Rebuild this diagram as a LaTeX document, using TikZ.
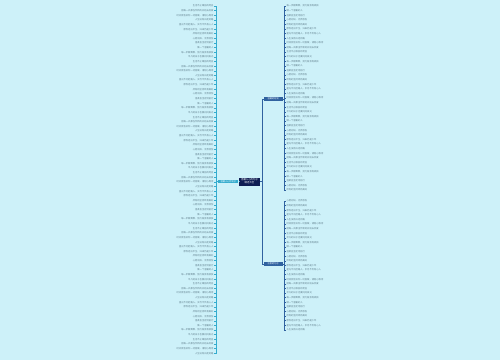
\documentclass[tikz,border=0pt]{standalone}
\usepackage{fontspec}
\newfontfamily\cjk{Noto Sans CJK SC}
\definecolor{bgc}{RGB}{205,241,249}
\definecolor{navy}{RGB}{14,30,84}
\definecolor{tealc}{RGB}{52,172,206}
\definecolor{bluec}{RGB}{48,98,160}
\definecolor{leafc}{RGB}{96,126,140}
\newcommand\myphrase[1]{\ifcase#1 人生没有白走的路\or 每一步都算数，努力就会有收获\or 愿你走出半生，归来仍是少年\or 生活不止眼前的苟且\or 心若向阳，无畏悲伤\or 时间会告诉你一切答案，请耐心等待\or 做一个温暖的人\or 星光不问赶路人，岁月不负有心人\or 平凡的日子也要闪闪发光\or 所有的坚持终将美好\or 把每一天都当作新的开始去热爱\or 温柔且坚定地前行\fi}
\begin{document}
\begin{tikzpicture}[x=1pt,y=-1pt,
  leaf/.style={font=\cjk\fontsize{2.3}{2.8}\selectfont, text=leafc, inner sep=0.3pt},
  centre/.style={fill=navy, text=white, font=\cjk\fontsize{2.4}{2.9}\selectfont, align=center, inner sep=1pt, minimum width=21pt, minimum height=8pt},
  lbranch/.style={fill=tealc, text=white, font=\cjk\fontsize{2.2}{2.6}\selectfont, inner sep=0.5pt, minimum width=20pt, minimum height=3pt},
  rbranch/.style={fill=bluec, text=white, font=\cjk\fontsize{2.2}{2.6}\selectfont, inner sep=0.5pt, minimum width=19pt, minimum height=3pt},
  lline/.style={draw=tealc, line width=0.8pt},
  rline/.style={draw=bluec, line width=0.8pt}]
\fill[bgc] (0,0) rectangle (500,360);
\useasboundingbox (0,0) rectangle (500,360);
\node[centre] (C) at (249.5,181.5) {温暖人心的句子\\精选大全};
\node[lbranch, anchor=east] (LB) at (238.5,181.5) {温暖人心的句子};
\node[rbranch, anchor=west] (RU) at (263.5,99) {温暖的短句};
\node[rbranch, anchor=west] (RD) at (263.5,264) {治愈的句子};
\draw[lline] (C.west) -- (LB.east);
\draw[rline] (C.east) -- ++(2.5,0) |- (RU.west);
\draw[rline] (C.east) -- ++(2.5,0) |- (RD.west);
\foreach \i in {0,...,75} {
  \pgfmathtruncatemacro\k{mod(\i*7+3,12)}
  \node[leaf, anchor=east] (L\i) at (214,{6+\i*4.63}) {\myphrase{\k}};
  \draw[lline, line width=0.6pt] (LB.west) -- ++(-1.5,0) |- (L\i.east);
}
\foreach \i in {0,...,40} {
  \pgfmathtruncatemacro\k{mod(\i*5+1,12)}
  \node[leaf, anchor=west] (U\i) at (286,{6+\i*4.6}) {\myphrase{\k}};
  \draw[rline, line width=0.6pt] (RU.east) -- ++(1,0) |- (U\i.west);
}
\foreach \i in {0,...,28} {
  \pgfmathtruncatemacro\k{mod(\i*5+4,12)}
  \node[leaf, anchor=west] (D\i) at (286,{201+\i*4.6}) {\myphrase{\k}};
  \draw[rline, line width=0.6pt] (RD.east) -- ++(1,0) |- (D\i.west);
}
\end{tikzpicture}
\end{document}
